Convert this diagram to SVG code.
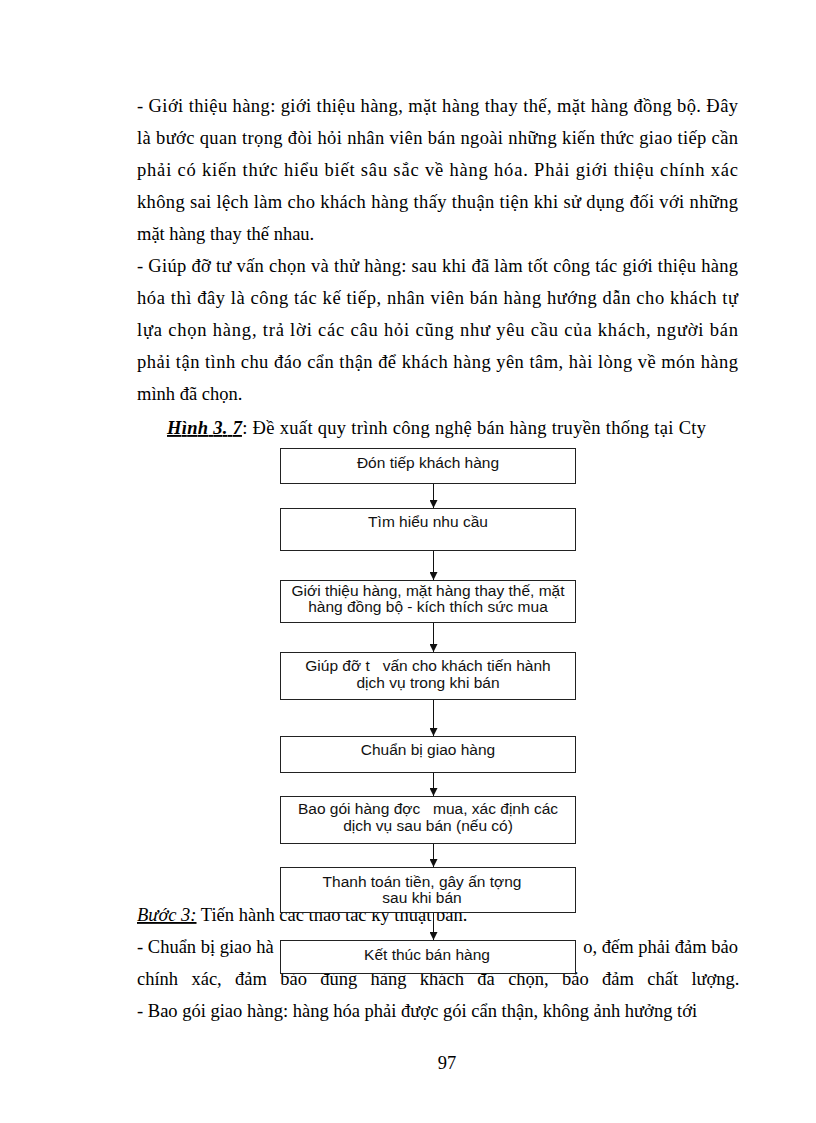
<svg xmlns="http://www.w3.org/2000/svg" width="816" height="1123" viewBox="0 0 816 1123">
<style>
.body{font-family:"Liberation Serif","Times New Roman",serif;font-size:18.5px;fill:#000}
.box{fill:#fff;stroke:#222;stroke-width:1}
.bt{font-family:"Liberation Sans",Arial,sans-serif;font-size:15.5px;fill:#111;text-anchor:middle}
.conn{stroke:#111;stroke-width:1;fill:none}
</style>
<defs>
<marker id="arr" viewBox="0 0 10 10" refX="10" refY="5" markerWidth="8" markerHeight="8" markerUnits="userSpaceOnUse" orient="auto">
<path d="M0,0 L10,5 L0,10 z" fill="#111"/>
</marker>
</defs>
<rect width="816" height="1123" fill="#fff"/>
<g id="body-text">
<text class="body" x="137" y="112" textLength="601" lengthAdjust="spacing">- Giới thiệu hàng: giới thiệu hàng, mặt hàng thay thế, mặt hàng đồng bộ. Đây</text>
<text class="body" x="137" y="144" textLength="601" lengthAdjust="spacing">là bước quan trọng đòi hỏi nhân viên bán ngoài những kiến thức giao tiếp cần</text>
<text class="body" x="137" y="176" textLength="601" lengthAdjust="spacing">phải có kiến thức hiểu biết sâu sắc về hàng hóa. Phải giới thiệu chính xác</text>
<text class="body" x="137" y="208" textLength="601" lengthAdjust="spacing">không sai lệch làm cho khách hàng thấy thuận tiện khi sử dụng đối với những</text>
<text class="body" x="137" y="240">mặt hàng thay thế nhau.</text>
<text class="body" x="137" y="272" textLength="601" lengthAdjust="spacing">- Giúp đỡ tư vấn chọn và thử hàng: sau khi đã làm tốt công tác giới thiệu hàng</text>
<text class="body" x="137" y="304" textLength="601" lengthAdjust="spacing">hóa thì đây là công tác kế tiếp, nhân viên bán hàng hướng dẫn cho khách tự</text>
<text class="body" x="137" y="336" textLength="601" lengthAdjust="spacing">lựa chọn hàng, trả lời các câu hỏi cũng như yêu cầu của khách, người bán</text>
<text class="body" x="137" y="368" textLength="601" lengthAdjust="spacing">phải tận tình chu đáo cẩn thận để khách hàng yên tâm, hài lòng về món hàng</text>
<text class="body" x="137" y="400">mình đã chọn.</text>
<text class="body" x="167" y="434" textLength="539" lengthAdjust="spacing"><tspan font-weight="bold" font-style="italic" text-decoration="underline">Hình 3. 7</tspan>: Đề xuất quy trình công nghệ bán hàng truyền thống tại Cty</text>
<text class="body" x="137" y="921"><tspan font-style="italic" text-decoration="underline">Bước 3:</tspan> Tiến hành các thao tác kỹ thuật bán.</text>
<text class="body" x="137" y="953">- Chuẩn bị giao hà</text>
<text class="body" x="738" y="953" text-anchor="end">o, đếm phải đảm bảo</text>
<text class="body" x="137" y="985" word-spacing="8.7">chính xác, đảm bảo đúng hàng khách đã chọn, bảo đảm chất lượng.</text>
<text class="body" x="137" y="1017">- Bao gói giao hàng: hàng hóa phải được gói cẩn thận, không ảnh hưởng tới</text>
<text class="body" x="447" y="1069" text-anchor="middle">97</text>
</g>
<g id="connectors">
<line class="conn" x1="433.5" y1="484" x2="433.5" y2="508" marker-end="url(#arr)"/>
<line class="conn" x1="433.5" y1="551" x2="433.5" y2="580" marker-end="url(#arr)"/>
<line class="conn" x1="433.5" y1="623" x2="433.5" y2="652" marker-end="url(#arr)"/>
<line class="conn" x1="433.5" y1="700" x2="433.5" y2="736" marker-end="url(#arr)"/>
<line class="conn" x1="433.5" y1="772" x2="433.5" y2="796" marker-end="url(#arr)"/>
<line class="conn" x1="433.5" y1="844" x2="433.5" y2="867" marker-end="url(#arr)"/>
<line class="conn" x1="433.5" y1="913" x2="433.5" y2="940" marker-end="url(#arr)"/>
</g>
<g id="n1"><rect class="box" x="280.5" y="448.5" width="295" height="35"/><text class="bt" x="428" y="468">Đón tiếp khách hàng</text></g>
<g id="n2"><rect class="box" x="280.5" y="508.5" width="295" height="42"/><text class="bt" x="428" y="527">Tìm hiểu nhu cầu</text></g>
<g id="n3"><rect class="box" x="280.5" y="580.5" width="295" height="42"/><text class="bt" x="428" y="596">Giới thiệu hàng, mặt hàng thay thế, mặt</text><text class="bt" x="428" y="612">hàng đồng bộ - kích thích sức mua</text></g>
<g id="n4"><rect class="box" x="280.5" y="652.5" width="295" height="47"/><text class="bt" x="428" y="671">Giúp đỡ t&#160;&#160;&#160;vấn cho khách tiến hành</text><text class="bt" x="428" y="688">dịch vụ trong khi bán</text></g>
<g id="n5"><rect class="box" x="280.5" y="736.5" width="295" height="36"/><text class="bt" x="428" y="755">Chuẩn bị giao hàng</text></g>
<g id="n6"><rect class="box" x="280.5" y="796.5" width="295" height="47"/><text class="bt" x="428" y="814">Bao gói hàng đợc&#160;&#160;&#160;mua, xác định các</text><text class="bt" x="428" y="831">dịch vụ sau bán (nếu có)</text></g>
<g id="n7"><rect class="box" x="280.5" y="867.5" width="295" height="45"/><text class="bt" x="422" y="887">Thanh toán tiền, gây ấn tợng</text><text class="bt" x="422" y="903">sau khi bán</text></g>
<g id="n8"><rect class="box" x="280.5" y="940.5" width="295" height="33"/><text class="bt" x="427" y="960">Kết thúc bán hàng</text></g>
</svg>
